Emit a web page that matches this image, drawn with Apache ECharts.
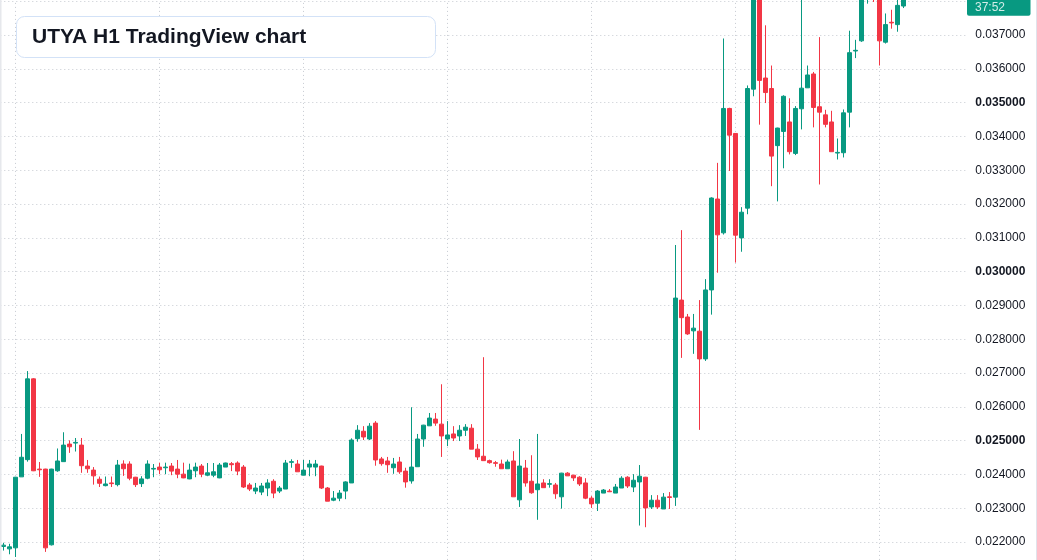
<!DOCTYPE html>
<html>
<head>
<meta charset="utf-8">
<script src="https://cdn.jsdelivr.net/npm/echarts@6/dist/echarts.min.js"></script>
<style>
html,body{margin:0;padding:0;background:#ffffff;overflow:hidden}
#chart{width:1037px;height:560px}
</style>
</head>
<body>
<div id="chart"></div>
<script>
// UTYA H1 candles (price values)
const openP = [
0.02187,0.02180,0.02183,0.02393,0.02444,0.02683,0.02416,0.02416,0.02192,0.02411,
0.02438,0.02490,0.02493,0.02487,0.02425,0.02413,0.02386,0.02367,0.02375,0.02370,
0.02431,0.02431,0.02392,0.02373,0.02389,0.02416,0.02422,0.02420,0.02425,0.02416,
0.02401,0.02387,0.02411,0.02425,0.02398,0.02398,0.02390,0.02422,0.02432,0.02434,
0.02422,0.02369,0.02351,0.02348,0.02360,0.02380,0.02351,0.02357,0.02436,0.02431,
0.02398,0.02422,0.02422,0.02425,0.02360,0.02324,0.02330,0.02351,0.02375,0.02506,
0.02528,0.02505,0.02552,0.02446,0.02440,0.02420,0.02437,0.02410,0.02381,0.02423,
0.02505,0.02544,0.02564,0.02549,0.02505,0.02520,0.02514,0.02531,0.02537,0.02475,
0.02454,0.02441,0.02435,0.02431,0.02417,0.02440,0.02325,0.02419,0.02380,0.02355,
0.02375,0.02371,0.02369,0.02334,0.02404,0.02398,0.02392,0.02375,0.02330,0.02315,
0.02345,0.02351,0.02345,0.02360,0.02392,0.02363,0.02378,0.02392,0.02304,0.02324,
0.02298,0.02334,0.02333,0.02916,0.02866,0.02825,0.02824,0.02742,0.02946,0.03215,
0.03115,0.03483,0.03409,0.03100,0.03188,0.03540,0.03840,0.03573,0.03542,0.03373,
0.03415,0.03443,0.03350,0.03482,0.03544,0.03585,0.03488,0.03464,0.03443,0.03351,
0.03352,0.03472,0.03653,0.03683,0.03830,0.03860,0.03820,0.03679,0.03738,0.03731,
0.03786
];
const closeP = [
0.02191,0.02186,0.02392,0.02451,0.02683,0.02411,0.02414,0.02183,0.02416,0.02440,
0.02487,0.02482,0.02495,0.02426,0.02417,0.02396,0.02374,0.02372,0.02373,0.02428,
0.02417,0.02389,0.02370,0.02387,0.02431,0.02418,0.02414,0.02422,0.02410,0.02401,
0.02390,0.02413,0.02422,0.02401,0.02405,0.02408,0.02428,0.02434,0.02429,0.02410,
0.02363,0.02357,0.02360,0.02366,0.02375,0.02345,0.02360,0.02434,0.02438,0.02408,
0.02413,0.02431,0.02431,0.02360,0.02321,0.02330,0.02345,0.02378,0.02502,0.02531,
0.02511,0.02543,0.02443,0.02432,0.02429,0.02431,0.02408,0.02378,0.02422,0.02505,
0.02546,0.02567,0.02552,0.02514,0.02517,0.02508,0.02531,0.02540,0.02475,0.02452,
0.02441,0.02435,0.02433,0.02417,0.02437,0.02334,0.02425,0.02375,0.02346,0.02372,
0.02361,0.02373,0.02343,0.02404,0.02396,0.02390,0.02372,0.02330,0.02313,0.02351,
0.02354,0.02349,0.02363,0.02389,0.02366,0.02383,0.02395,0.02301,0.02324,0.02304,
0.02333,0.02332,0.02922,0.02864,0.02816,0.02833,0.02742,0.02946,0.03218,0.03109,
0.03483,0.03404,0.03108,0.03176,0.03542,0.03840,0.03566,0.03530,0.03342,0.03425,
0.03519,0.03355,0.03483,0.03543,0.03582,0.03486,0.03472,0.03436,0.03355,0.03353,
0.03470,0.03648,0.03655,0.03830,0.03860,0.03820,0.03683,0.03731,0.03736,0.03788,
0.03830
];
const lowP = [
0.02175,0.02164,0.02156,0.02393,0.02438,0.02410,0.02393,0.02171,0.02190,0.02408,
0.02438,0.02464,0.02468,0.02405,0.02405,0.02370,0.02363,0.02365,0.02363,0.02365,
0.02396,0.02383,0.02363,0.02363,0.02386,0.02392,0.02401,0.02401,0.02398,0.02389,
0.02389,0.02386,0.02392,0.02392,0.02395,0.02392,0.02389,0.02422,0.02410,0.02398,
0.02360,0.02351,0.02342,0.02339,0.02336,0.02330,0.02345,0.02357,0.02420,0.02408,
0.02398,0.02395,0.02395,0.02357,0.02321,0.02321,0.02321,0.02327,0.02375,0.02497,
0.02502,0.02502,0.02426,0.02426,0.02405,0.02402,0.02402,0.02361,0.02373,0.02423,
0.02482,0.02544,0.02544,0.02452,0.02484,0.02499,0.02499,0.02514,0.02475,0.02443,
0.02441,0.02432,0.02423,0.02417,0.02417,0.02334,0.02304,0.02364,0.02343,0.02266,
0.02361,0.02361,0.02328,0.02299,0.02396,0.02381,0.02366,0.02327,0.02301,0.02292,
0.02345,0.02348,0.02345,0.02360,0.02360,0.02348,0.02249,0.02244,0.02298,0.02298,
0.02298,0.02298,0.02307,0.02745,0.02813,0.02757,0.02532,0.02736,0.02873,0.02997,
0.03110,0.03298,0.03027,0.03059,0.03170,0.03519,0.03435,0.03499,0.03253,0.03208,
0.03306,0.03347,0.03345,0.03421,0.03544,0.03427,0.03258,0.03427,0.03355,0.03332,
0.03338,0.03427,0.03632,0.03680,0.03793,0.03798,0.03610,0.03675,0.03719,0.03710,
0.03780
];
const highP = [
0.02198,0.02195,0.02393,0.02520,0.02706,0.02685,0.02437,0.02417,0.02417,0.02477,
0.02525,0.02501,0.02508,0.02508,0.02443,0.02422,0.02394,0.02394,0.02394,0.02443,
0.02442,0.02439,0.02393,0.02395,0.02442,0.02431,0.02435,0.02435,0.02434,0.02443,
0.02435,0.02432,0.02435,0.02431,0.02434,0.02434,0.02434,0.02435,0.02437,0.02439,
0.02428,0.02375,0.02375,0.02375,0.02386,0.02386,0.02366,0.02443,0.02445,0.02443,
0.02443,0.02443,0.02443,0.02426,0.02363,0.02351,0.02354,0.02380,0.02507,0.02546,
0.02543,0.02552,0.02558,0.02452,0.02452,0.02449,0.02452,0.02420,0.02599,0.02520,
0.02547,0.02582,0.02582,0.02667,0.02558,0.02543,0.02546,0.02549,0.02549,0.02490,
0.02747,0.02444,0.02440,0.02444,0.02444,0.02469,0.02505,0.02443,0.02457,0.02520,
0.02386,0.02386,0.02375,0.02405,0.02407,0.02399,0.02395,0.02389,0.02336,0.02354,
0.02357,0.02357,0.02372,0.02395,0.02395,0.02401,0.02428,0.02393,0.02339,0.02339,
0.02345,0.02348,0.03079,0.03123,0.02875,0.02875,0.02916,0.02978,0.03220,0.03322,
0.03690,0.03485,0.03410,0.03191,0.03551,0.03860,0.03850,0.03729,0.03610,0.03426,
0.03522,0.03513,0.03490,0.03830,0.03610,0.03591,0.03694,0.03479,0.03476,0.03394,
0.03480,0.03713,0.03686,0.03850,0.03880,0.03880,0.03840,0.03764,0.03775,0.03810,
0.03840
];
const yTicks = [0.022,0.023,0.024,0.025,0.026,0.027,0.028,0.029,0.030,0.031,0.032,0.033,0.034,0.035,0.036,0.037];
const countdownText = '37:52';
const titleText = 'UTYA H1 TradingView chart';

// hourly categories (first candle at 22:00), plus empty right margin
const SLOTS = 161;
const categories = [];
for (let i = 0; i < SLOTS; i++) {
  const h = (22 + i) % 24;
  const d = Math.floor((22 + i) / 24) + 1;
  categories.push('D' + d + ' ' + String(h).padStart(2, '0') + ':00');
}
const dayStarts = [];
categories.forEach((c, i) => { if (c.endsWith(' 00:00')) dayStarts.push(i); });

const candles = openP.map((o, i) => [o, closeP[i], lowP[i], highP[i]]);

const UP = '#089981', DOWN = '#F23645', GRIDC = '#c6cad1', TXT = '#131722';
const FONT = '"Liberation Sans", Arial, sans-serif';

const chart = echarts.init(document.getElementById('chart'), null, { renderer: 'canvas' });
chart.setOption({
  animation: false,
  backgroundColor: '#ffffff',
  grid: { left: 0.3, top: 1.3, width: 966, height: 574.6, outerBoundsMode: 'none', containLabel: false },
  xAxis: {
    type: 'category', data: categories, boundaryGap: true,
    axisLine: { show: false }, axisTick: { show: false }, axisLabel: { show: false }, splitLine: { show: false }
  },
  yAxis: {
    type: 'value', position: 'right', min: 0.021, max: 0.038, interval: 0.001, scale: true,
    axisLine: { show: false }, axisTick: { show: false },
    splitLine: { show: true, lineStyle: { color: GRIDC, type: [1, 3], width: 1 } },
    axisLabel: {
      show: true, margin: 9, color: TXT, fontSize: 12, fontFamily: FONT,
      showMaxLabel: false, showMinLabel: false,
      formatter: function (v) {
        const k = Math.round(v * 1000);
        const s = (k / 1000).toFixed(6);
        return k % 5 === 0 ? '{b|' + s + '}' : s;
      },
      rich: { b: { fontWeight: 'bold', fontSize: 12, color: TXT, fontFamily: FONT } }
    }
  },
  series: [{
    type: 'candlestick',
    data: candles,
    barWidth: 4,
    clip: true,
    z: 2,
    itemStyle: { color: UP, color0: DOWN, borderColor: UP, borderColor0: DOWN, borderWidth: 1 },
    markLine: {
      silent: true, z: 1, symbol: ['none', 'none'], animation: false,
      label: { show: false },
      emphasis: { disabled: true },
      lineStyle: { color: GRIDC, type: [1, 3], width: 1 },
      data: dayStarts.map(i => ({ xAxis: i }))
    }
  }],
  graphic: [
    { type: 'line', silent: true, z: 50, shape: { x1: 0.5, y1: 0, x2: 0.5, y2: 560 }, style: { stroke: '#e6e8ec', lineWidth: 2 } },
    { type: 'line', silent: true, z: 50, shape: { x1: 1036.5, y1: 0, x2: 1036.5, y2: 560 }, style: { stroke: '#e0e3eb', lineWidth: 1 } },
    { type: 'rect', silent: true, z: 50, shape: { x: 967, y: -6, width: 63.5, height: 21.7, r: 2 }, style: { fill: UP } },
    { type: 'text', silent: true, z: 51, x: 975, y: 8, style: { text: countdownText, font: '12px ' + FONT, fill: 'rgba(255,255,255,0.82)', verticalAlign: 'middle', textVerticalAlign: 'middle' } },
    { type: 'rect', silent: true, z: 50, shape: { x: 16.5, y: 16.5, width: 419, height: 41, r: 8 }, style: { fill: '#ffffff', stroke: '#d3e2f7', lineWidth: 1 } },
    { type: 'text', silent: true, z: 51, x: 32, y: 37.5, style: { text: titleText, font: 'bold 21px ' + FONT, fill: TXT, verticalAlign: 'middle', textVerticalAlign: 'middle' } }
  ]
});
</script>
</body>
</html>
